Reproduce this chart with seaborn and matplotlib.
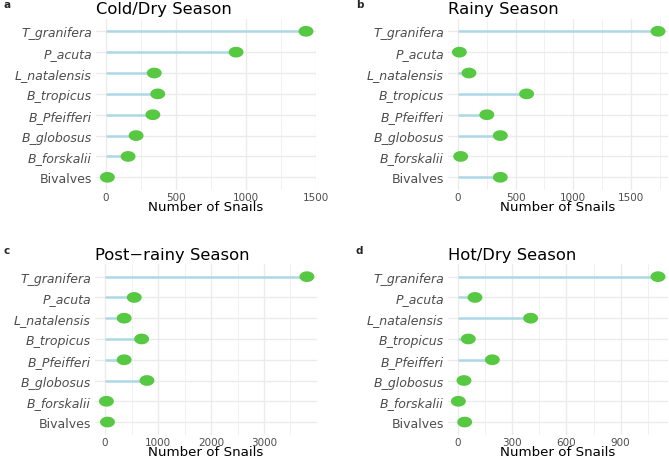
import numpy as np
import pandas as pd
import matplotlib
matplotlib.use("Agg")
import matplotlib.pyplot as plt
from matplotlib.path import Path
import seaborn as sns

# Species (top to bottom) and counts per season
species = ["T_granifera", "P_acuta", "L_natalensis", "B_tropicus",
           "B_Pfeifferi", "B_globosus", "B_forskalii", "Bivalves"]

cold_dry = [1430, 930, 345, 370, 335, 215, 158, 10]
rainy = [1735, 12, 95, 595, 250, 367, 23, 367]
post_rainy = [3810, 550, 360, 690, 360, 790, 25, 45]
hot_dry = [1107, 94, 402, 57, 190, 33, 2, 37]

panels = [
    ("a", "Cold/Dry Season", cold_dry, [0, 500, 1000, 1500]),
    ("b", "Rainy Season", rainy, [0, 500, 1000, 1500]),
    ("c", "Post\u2212rainy Season", post_rainy, [0, 1000, 2000, 3000]),
    ("d", "Hot/Dry Season", hot_dry, [0, 300, 600, 900]),
]

# axes boxes in pixels: left, top, width, height
W, H = 669, 460
boxes = [(96, 19.8, 220, 171), (448, 19.8, 220, 171),
         (95, 265.2, 222, 170.3), (448, 265.2, 220, 170.3)]
letter_pos = [(3, 5), (356, 5), (3, 251), (356, 251)]

sns.set_theme(style="white")
plt.rcParams['font.family'] = ['DejaVu Sans']

# slightly wide ellipse marker like the reference dots
t = np.linspace(0, 2 * np.pi, 60)
ellipse = Path(np.column_stack([np.cos(t), 0.72 * np.sin(t)]), closed=True)

fig = plt.figure(figsize=(W / 100, H / 100), dpi=100)

for (letter, title, vals, ticks), (l, tp, w, h), (lx, ly) in zip(panels, boxes, letter_pos):
    ax = fig.add_axes([l / W, 1 - (tp + h) / H, w / W, h / H])
    df = pd.DataFrame({"species": species, "count": vals, "pos": range(len(species))})
    vmax = max(vals)
    step = ticks[1] - ticks[0]

    # grid (major + minor on x, major on y)
    for v in ticks:
        ax.axvline(v, color="#EBEBEB", lw=1.0, zorder=0)
    minors = np.arange(ticks[0] + step / 2, vmax * 1.05, step)
    for v in minors:
        ax.axvline(v, color="#EFEFEF", lw=0.6, zorder=0)
    for p in df["pos"]:
        ax.axhline(p, color="#EBEBEB", lw=1.0, zorder=0)

    ax.hlines(df["pos"], 0, df["count"], color="#ADD8E6", lw=1.8, zorder=1)
    sns.scatterplot(data=df, x="count", y="pos", marker=ellipse, s=115,
                    color="#57C841", edgecolor="none", linewidth=0, ax=ax, zorder=2)

    ax.set_xlim(-0.05 * vmax, 1.05 * vmax)
    ax.set_ylim(len(species) - 0.4, -0.6)
    ax.set_xticks(ticks)
    ax.set_xticklabels([str(v) for v in ticks], fontsize=7.5, color="#4D4D4D")
    ax.set_yticks(df["pos"])
    ax.set_yticklabels(species, fontsize=9.0, color="#4D4D4D")
    for lab in ax.get_yticklabels():
        if lab.get_text() != "Bivalves":
            lab.set_fontstyle("italic")
    ax.tick_params(axis="y", length=0, pad=3)
    ax.tick_params(axis="x", length=0, pad=1.5)
    ax.set_ylabel("")
    ax.set_xlabel("Number of Snails", fontsize=9.6, color="black", labelpad=-1)
    ax.set_title(title, loc="left", fontsize=11.8, pad=4, color="black")
    for s in ax.spines.values():
        s.set_visible(False)
    ax.grid(False)

    fig.text(lx / W, 1 - ly / H, letter, fontsize=7.5, fontweight="bold",
             ha="left", va="center")

fig.savefig("out.png", dpi=100, facecolor="white")
